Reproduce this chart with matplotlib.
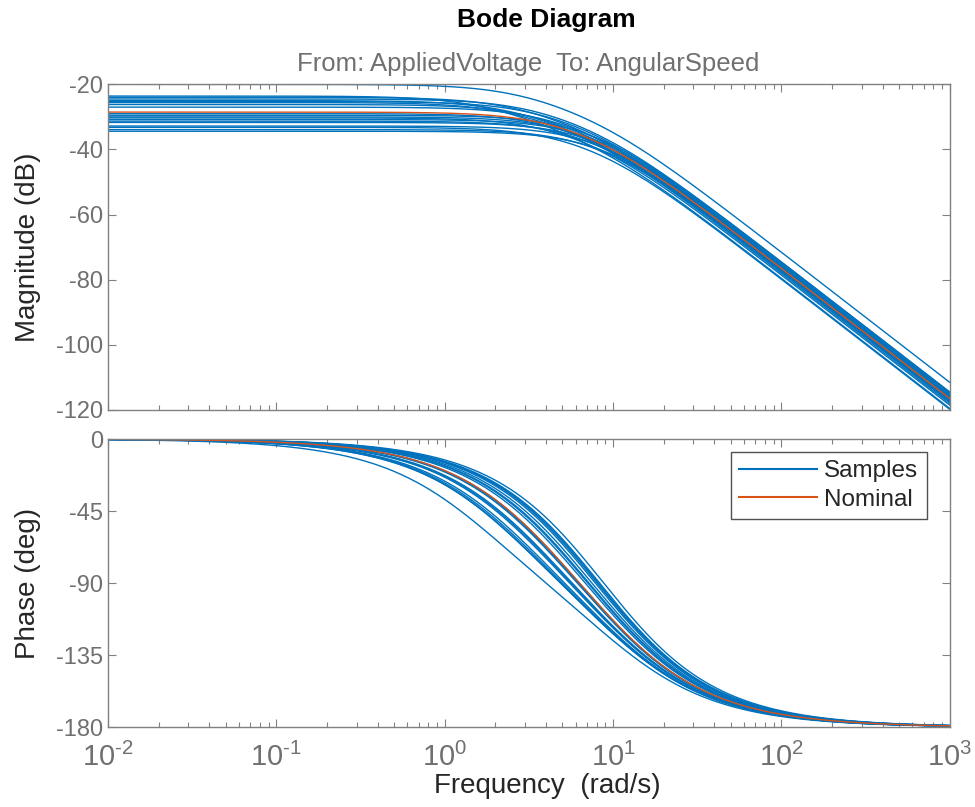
import numpy as np
import matplotlib
matplotlib.use("Agg")
import matplotlib.pyplot as plt
from matplotlib.ticker import FixedLocator, LogLocator, NullFormatter

# sample responses: low-frequency gain (dB) and electrical pole (rad/s)
sample_dc_db = [-20.0, -23.6, -24.0, -24.5, -25.0, -25.3, -25.6, -26.2, -27.0, -29.0,
                -29.5, -30.0, -30.3, -30.8, -31.3, -31.7, -32.8, -33.2, -33.9, -34.4]
sample_pole_e = [2.66, 1.60, 2.51, 3.16, 2.37, 3.27, 2.40, 3.05, 3.76, 3.98,
                 5.62, 5.01, 3.89, 6.17, 5.19, 6.46, 6.92, 4.68, 6.68, 7.76]
pole_mech = 10.0

# nominal motor: R, L, K, J, Kf
nom_R, nom_L, nom_K, nom_J, nom_Kf = 2.0, 0.5, 0.015, 0.02, 0.2

mag_ticks = [-20, -40, -60, -80, -100, -120]
phase_ticks = [0, -45, -90, -135, -180]
freq_ticks = [1e-2, 1e-1, 1e0, 1e1, 1e2, 1e3]
freq_labels = ["$10^{\\text{-}2}$", "$10^{\\text{-}1}$", "$10^{0}$", "$10^{1}$", "$10^{2}$", "$10^{3}$"]

BLUE = "#0072BD"
ORANGE = "#D95319"
GRAY = "#808080"
TXT_GRAY = "#707070"
DARK = "#262626"

plt.rcParams["font.family"] = ["Liberation Sans", "DejaVu Sans"]
plt.rcParams["mathtext.fontset"] = "custom"
plt.rcParams["mathtext.rm"] = "Liberation Sans"
plt.rcParams["mathtext.it"] = "Liberation Sans"
plt.rcParams["axes.unicode_minus"] = False

w = np.logspace(-2, 3, 600)
s = 1j * w

fig = plt.figure(figsize=(9.75, 8.07), dpi=100)
ax1 = fig.add_axes([0.1108, 0.492, 0.8632, 0.4035])
ax2 = fig.add_axes([0.1108, 0.099, 0.8632, 0.357])

for dc, pe in zip(sample_dc_db, sample_pole_e):
    h = 10 ** (dc / 20) / ((1 + s / pe) * (1 + s / pole_mech))
    ax1.semilogx(w, 20 * np.log10(np.abs(h)), color=BLUE, lw=1.0)
    ax2.semilogx(w, np.degrees(np.unwrap(np.angle(h))), color=BLUE, lw=1.0)

h_nom = nom_K / ((nom_J * s + nom_Kf) * (nom_L * s + nom_R) + nom_K ** 2)
ax1.semilogx(w, 20 * np.log10(np.abs(h_nom)), color=ORANGE, lw=1.0)
ax2.semilogx(w, np.degrees(np.unwrap(np.angle(h_nom))), color=ORANGE, lw=1.0)

ax1.set_ylim(-120, -20)
ax2.set_ylim(-180, 0)
ax1.set_yticks(mag_ticks)
ax2.set_yticks(phase_ticks)

for ax in (ax1, ax2):
    ax.set_xlim(1e-2, 1e3)
    ax.xaxis.set_major_locator(FixedLocator(freq_ticks))
    ax.xaxis.set_minor_locator(LogLocator(base=10, subs=np.arange(2, 10), numticks=20))
    ax.xaxis.set_minor_formatter(NullFormatter())
    ax.tick_params(which="both", direction="in", top=True, right=True, colors=GRAY,
                   labelcolor=TXT_GRAY, labelsize=17)
    ax.tick_params(which="major", length=6, width=0.8)
    ax.tick_params(which="minor", length=3.5, width=0.8)
    for sp in ax.spines.values():
        sp.set_color(GRAY)
        sp.set_linewidth(1.0)

ax1.set_xticklabels([])
ax2.set_xticklabels(freq_labels, fontsize=21)
ax2.tick_params(axis="x", pad=11)

fig.text(28 / 975, 1 - 247 / 807, "Magnitude (dB)", rotation=90, ha="center", va="center",
         fontsize=20, color=DARK)
fig.text(28 / 975, 1 - 583 / 807, "Phase (deg)", rotation=90, ha="center", va="center",
         fontsize=20, color=DARK)
fig.text(547 / 975, 1 - 786 / 807, "Frequency  (rad/s)", ha="center", va="center",
         fontsize=20, color=DARK)

fig.text(546 / 975, 1 - 20 / 807, "Bode Diagram", ha="center", va="center", fontsize=19,
         fontweight="bold", color="black")
fig.text(528 / 975, 1 - 64 / 807, "From: AppliedVoltage  To: AngularSpeed", ha="center", va="center",
         fontsize=18.5, color=TXT_GRAY)

ax2.plot([], [], color=BLUE, lw=1.5, label="Samples")
ax2.plot([], [], color=ORANGE, lw=1.5, label="Nominal")
handles, labels = ax2.get_legend_handles_labels()
leg = ax2.legend(handles[-2:], labels[-2:], loc="upper right", fontsize=17.5, frameon=True,
                 fancybox=False, handlelength=3.2, borderpad=0.35, labelspacing=0.25,
                 handletextpad=0.3, borderaxespad=0, bbox_to_anchor=(0.973, 0.955))
leg.get_frame().set_edgecolor(DARK)
leg.get_frame().set_linewidth(1.0)
for t in leg.get_texts():
    t.set_color(DARK)

fig.savefig("out.png", dpi=100)
